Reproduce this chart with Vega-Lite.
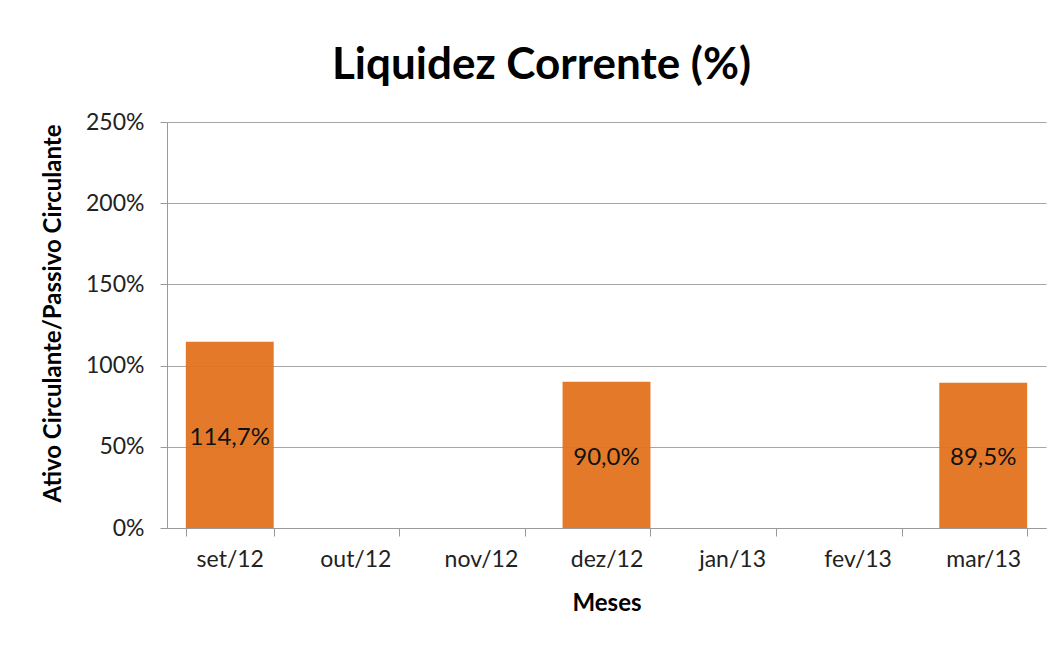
{
  "$schema": "https://vega.github.io/schema/vega-lite/v6.json",
  "autosize": {"type": "none"},
  "width": 879,
  "height": 406,
  "padding": {"left": 167, "top": 122, "right": 13, "bottom": 117},
  "background": "white",
  "config": {
    "locale": {"number": {"decimal": ",", "thousands": ".", "grouping": [3], "currency": ["R$", ""]}},
    "view": {"stroke": null},
    "font": "Lato"
  },
  "title": {
    "text": "Liquidez Corrente (%)",
    "fontSize": 44,
    "fontWeight": "bold",
    "font": "Lato",
    "color": "#000000",
    "anchor": "middle",
    "dx": -65,
    "offset": 23
  },
  "data": {
    "values": [
      {"mes": "set/12", "valor": 1.147},
      {"mes": "out/12", "valor": null},
      {"mes": "nov/12", "valor": null},
      {"mes": "dez/12", "valor": 0.900},
      {"mes": "jan/13", "valor": null},
      {"mes": "fev/13", "valor": null},
      {"mes": "mar/13", "valor": 0.895}
    ]
  },
  "encoding": {
    "x": {
      "field": "mes",
      "type": "nominal",
      "sort": null,
      "title": "Meses",
      "scale": {
        "domain": ["set/12", "out/12", "nov/12", "dez/12", "jan/13", "fev/13", "mar/13"],
        "paddingInner": 0.3,
        "paddingOuter": 0.15
      },
      "axis": {
        "labelAngle": 0,
        "labelFontSize": 23,
        "labelColor": "#222222",
        "labelPadding": 12,
        "tickBand": "extent",
        "tickSize": 8,
        "tickColor": "#999999",
        "domainColor": "#999999",
        "titleFontSize": 24,
        "titleFontWeight": "bold",
        "titleColor": "#000000",
        "titlePadding": 20
      }
    }
  },
  "layer": [
    {
      "mark": {"type": "bar", "color": "#E3731D", "opacity": 0.95},
      "encoding": {
        "y": {
          "field": "valor",
          "type": "quantitative",
          "title": "Ativo Circulante/Passivo Circulante",
          "scale": {"domain": [0, 2.5], "nice": false},
          "axis": {
            "format": ".0%",
            "values": [0, 0.5, 1, 1.5, 2, 2.5],
            "labelFontSize": 23,
            "labelColor": "#222222",
            "labelPadding": 16,
            "tickSize": 7,
            "tickColor": "#999999",
            "domainColor": "#999999",
            "gridColor": "#a6a6a6",
            "titleFontSize": 24,
            "titleFontWeight": "bold",
            "titleColor": "#000000",
            "titlePadding": 20,
            "titleY": 191
          }
        }
      }
    },
    {
      "mark": {"type": "text", "fontSize": 24, "color": "#111111", "baseline": "middle", "dy": 3},
      "transform": [
        {"filter": "datum.valor != null"},
        {"calculate": "datum.valor / 2", "as": "posicao_rotulo"}
      ],
      "encoding": {
        "y": {"field": "posicao_rotulo", "type": "quantitative"},
        "text": {"field": "valor", "type": "quantitative", "format": ".1%"}
      }
    }
  ]
}
